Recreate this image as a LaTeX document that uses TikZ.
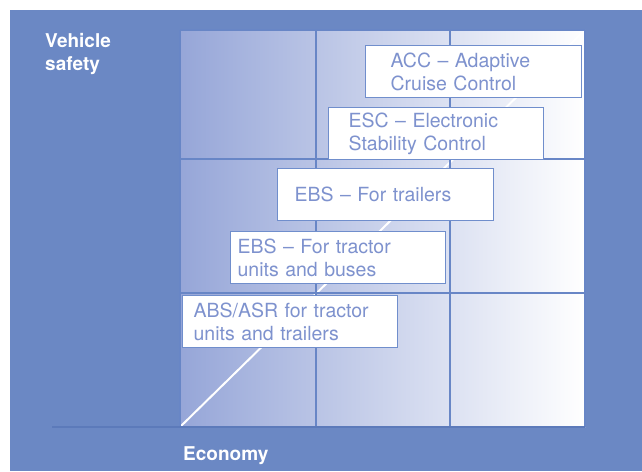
\documentclass[tikz,border=0pt]{standalone}
\usepackage{xcolor}
\usepackage{fontspec}
\setmainfont{TeX Gyre Heros}
\usetikzlibrary{positioning}

\definecolor{bgblue}{RGB}{107,136,196}
\definecolor{gridblue}{RGB}{104,134,198}
\definecolor{axisblue}{RGB}{92,122,186}
\definecolor{gridleft}{RGB}{150,166,216}
\definecolor{boxblue}{RGB}{112,142,204}
\definecolor{txtblue}{RGB}{126,146,206}

\begin{document}
\begin{tikzpicture}[x=1pt, y=-1pt,
    tag/.style={draw=boxblue, line width=1.2pt, fill=white, text=txtblue,
        minimum height=52pt, align=left, inner ysep=0pt, anchor=north west,
        font=\fontsize{19.5}{23}\selectfont},
    axislabel/.style={text=white, inner sep=0pt, align=left,
        font=\bfseries\fontsize{19}{23}\selectfont}]

        % Background
        \fill[white] (0,0) rectangle (642,471);
        \fill[bgblue] (10,10) rectangle (642,471);

        % Grid
        \shade[left color=gridleft, right color=white] (180,30) rectangle (585,427);
        \coordinate (origin) at (180,427);
        \coordinate (corner) at (585,30);
        \draw[white, line width=2pt] (origin) -- (corner);
        \foreach \x in {180,316,450,585}
            \draw[gridblue, line width=1.5pt] (\x,30) -- (\x,427);
        \foreach \y in {30,159,293}
            \draw[gridblue, line width=1.5pt] (180,\y) -- (585,\y);

        % Axis
        \coordinate (axisstart) at (52,427);
        \coordinate (axisend) at (585,427);
        \draw[axisblue, line width=2pt] (axisstart) -- (axisend);
        \node[axislabel, anchor=north west] (safety) at (45,33) {Vehicle\\safety};
        \node[axislabel, anchor=base west] (economy) at (183,460) {Economy};

        % Systems
        \node[tag, text width=193pt, inner xsep=11pt] (absasr) at (182,295)
            {ABS/ASR for tractor\\units and trailers};
        \node[tag, text width=201pt, inner xsep=7pt] (ebstractor) at (230,231)
            {EBS -- For tractor\\units and buses};
        \node[tag, text width=182pt, inner xsep=17pt] (ebstrailer) at (277,168)
            {EBS -- For trailers};
        \node[tag, text width=175pt, inner xsep=20pt] (esc) at (328,107)
            {ESC -- Electronic\\Stability Control};
        \node[tag, text width=166pt, inner xsep=25pt] (acc) at (365,45)
            {ACC -- Adaptive\\Cruise Control};

\end{tikzpicture}
\end{document}
